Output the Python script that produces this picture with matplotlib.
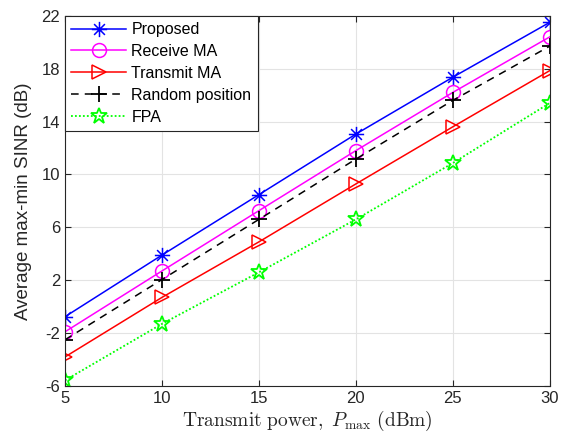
import matplotlib
matplotlib.use("Agg")
import matplotlib.pyplot as plt
from matplotlib.path import Path

power = [5, 10, 15, 20, 25, 30]
proposed = [-0.76, 3.9, 8.47, 13.05, 17.35, 21.5]
receive_ma = [-1.9, 2.7, 7.26, 11.8, 16.2, 20.4]
transmit_ma = [-3.8, 0.7, 4.9, 9.28, 13.6, 17.85]
random_pos = [-2.5, 2.05, 6.6, 11.16, 15.6, 19.7]
fpa = [-5.57, -1.3, 2.6, 6.6, 10.86, 15.4]
yticks = [-6, -2, 2, 6, 10, 14, 18, 22]
xticks = [5, 10, 15, 20, 25, 30]

plt.rcParams['font.family'] = ['Liberation Sans', 'DejaVu Sans']
plt.rcParams['mathtext.fontset'] = 'cm'

d = 0.7071
asterisk = Path([(-1, 0), (1, 0), (0, -1), (0, 1), (-d, -d), (d, d), (-d, d), (d, -d)],
                [Path.MOVETO, Path.LINETO] * 4)

fig = plt.figure(figsize=(5.61, 4.44), dpi=100)
ax = fig.add_axes([0.1159, 0.1306, 0.8641, 0.834])

ax.plot(power, proposed, color=(0, 0, 1), lw=1.1, marker=asterisk, ms=11, mew=1.1, label='Proposed')
ax.plot(power, receive_ma, color=(1, 0, 1), lw=1.1, marker='o', ms=10, mew=1.1, mfc='none', label='Receive MA')
ax.plot(power, transmit_ma, color=(1, 0, 0), lw=1.1, marker='>', ms=10, mew=1.1, mfc='none', label='Transmit MA')
ax.plot(power, random_pos, color='black', lw=1.1, ls=(0, (5, 4)), marker='+', ms=12, mew=1.3, label='Random position')
ax.plot(power, fpa, color=(0, 1, 0), lw=1.3, ls=(0, (1, 1.2)), marker='*', ms=12, mew=1.3, mfc='none', label='FPA')

ax.set_xlim(5, 30)
ax.set_ylim(-6, 22)
ax.set_xticks(xticks)
ax.set_yticks(yticks)
ax.set_yticklabels([str(v) for v in yticks])
ax.grid(True, color='#e3e3e3', lw=0.8)
ax.set_axisbelow(True)
for s in ax.spines.values():
    s.set_color('#262626')
    s.set_linewidth(0.8)
ax.tick_params(direction='in', top=True, right=True, labelsize=12, colors='#262626', length=4, width=0.8, labelcolor='#262626')

ax.set_ylabel('Average max-min SINR (dB)', fontsize=13.5, color='#262626', labelpad=7)
ax.set_xlabel(r'$\mathrm{Transmit\ power,}\ P_{\max}\ \mathrm{(dBm)}$', fontsize=14, color='#262626', labelpad=2)

leg = ax.legend(loc='upper left', fontsize=11.5, frameon=True, fancybox=False, framealpha=1,
                edgecolor='#262626', borderaxespad=0, handlelength=3.4, borderpad=0.4,
                labelspacing=0.43, handletextpad=0.35)
leg.get_frame().set_linewidth(0.8)

fig.savefig('out.png', dpi=100)
